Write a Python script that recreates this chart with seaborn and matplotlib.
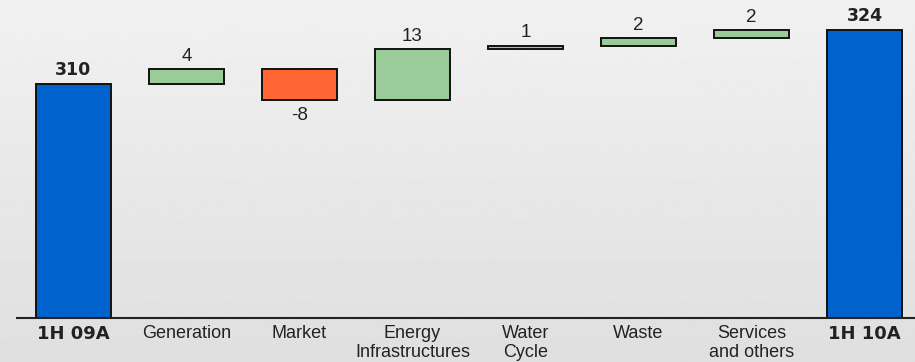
import numpy as np
import pandas as pd
import matplotlib
matplotlib.use("Agg")
import matplotlib.pyplot as plt
import seaborn as sns

# ---- data ----
categories = ["1H 09A", "Generation", "Market", "Energy\nInfrastructures",
              "Water\nCycle", "Waste", "Services\nand others", "1H 10A"]
start_value = 310
deltas = [4, -8, 13, 1, 2, 2]
end_value = 324
value_labels = ["310", "4", "-8", "13", "1", "2", "2", "324"]

BLUE = "#0062cc"
GREEN = "#99cc99"
RED = "#ff6633"

sns.set_theme(style="white")
plt.rcParams['font.family'] = ['Liberation Sans', 'DejaVu Sans']

# waterfall geometry derived from data
cum = np.cumsum([start_value] + deltas)
bottoms = [0] + list(cum[:-1]) + [0]
heights = [start_value] + deltas + [end_value]
tops = [b + h for b, h in zip(bottoms, heights)]
colors = [BLUE] + [GREEN if d >= 0 else RED for d in deltas] + [BLUE]

df = pd.DataFrame({"cat": categories, "height": heights})

fig = plt.figure(figsize=(9.15, 3.62), dpi=100)

# background gradient
bg = fig.add_axes([0, 0, 1, 1], zorder=-10)
grad = np.linspace(0.945, 0.875, 256).reshape(-1, 1)
grad = np.repeat(grad, 2, axis=1)
bg.imshow(grad, aspect="auto", cmap="gray", vmin=0, vmax=1, extent=[0, 1, 0, 1])
bg.axis("off")

ax = fig.add_axes([17/915, 44/362, (915-17)/915, 318/362])
ax.set_facecolor("none")

sns.barplot(data=df, x="cat", y="height", order=categories, bottom=bottoms,
            color=BLUE, edgecolor="#111111", linewidth=1.4, width=0.665,
            ax=ax, zorder=3)
for p, c in zip(ax.patches, colors):
    p.set_facecolor(c)
    p.set_clip_on(True)

ax.set_ylim(249.5, 331.8)
ax.set_xlim(-0.5, 7.447)

for i, (b, t, lab) in enumerate(zip(bottoms, tops, value_labels)):
    bold = i in (0, len(categories) - 1)
    if heights[i] < 0:
        ax.annotate(lab, (i, b + heights[i]), xytext=(0, -5), textcoords="offset points",
                    ha="center", va="top", fontsize=13.5, color="#222222")
    else:
        ax.annotate(lab, (i, t), xytext=(0, 3 if not bold else 4), textcoords="offset points",
                    ha="center", va="bottom",
                    fontsize=13.5 if not bold else 12.5,
                    fontweight="bold" if bold else "normal",
                    family=["DejaVu Sans"] if bold else ["Liberation Sans"],
                    color="#222222")

ax.set_xticks(range(len(categories)))
ax.set_xticklabels(categories, fontsize=13, linespacing=1.15, color="#222222")
for i, tl in enumerate(ax.get_xticklabels()):
    if i in (0, len(categories) - 1):
        tl.set_fontweight("bold")
        tl.set_family(["DejaVu Sans"])
        tl.set_fontsize(13)
ax.tick_params(axis="x", length=0, pad=5)
ax.set_yticks([])
ax.set_xlabel("")
ax.set_ylabel("")
for s in ["top", "right", "left"]:
    ax.spines[s].set_visible(False)
ax.spines["bottom"].set_color("#222222")
ax.spines["bottom"].set_linewidth(1.5)
ax.spines["bottom"].set_zorder(5)

fig.savefig("out.png", dpi=100)
